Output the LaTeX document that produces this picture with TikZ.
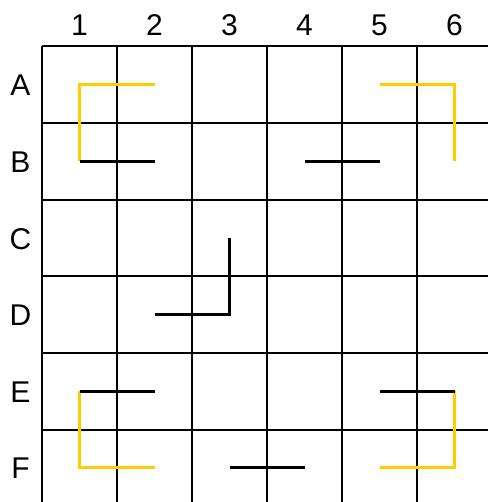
\documentclass[tikz,border=0pt]{standalone}
\usepackage{fontspec}
\setmainfont{Liberation Sans}
\usetikzlibrary{positioning}
\definecolor{PathGold}{RGB}{255,204,0}

\begin{document}
\begin{tikzpicture}[x=1pt, y=-1pt, lbl/.style={font=\fontsize{30}{30}\selectfont,inner sep=0pt}, gridline/.style={line width=2pt}, seg/.style={line width=3.3pt}, gold/.style={seg,draw=PathGold}]
\useasboundingbox (0,0) rectangle (488,502);
% grid
\foreach \k in {0,...,5} {
  \draw[gridline] ({42+75*\k},46.5) -- ({42+75*\k},502);
  \draw[gridline] (42,{46.5+76.6*\k}) -- (488,{46.5+76.6*\k});
}
% labels and cell centres
\foreach \c in {1,...,6}
  \node[lbl] (col\c) at ({79.5+75*(\c-1)},25) {\c};
\foreach \r [count=\j] in {A,...,F} {
  \node[lbl] (row\r) at (20.5,{85.5+76.6*(\j-1)}) {\r};
  \foreach \c in {1,...,6}
    \coordinate (\r\c) at ({79.5+75*(\c-1)},{84.8+76.6*(\j-1)});
}
% pieces
\draw[gold] (A2) -- (A1) -- (B1);
\draw[seg] (B1) -- (B2);
\draw[gold] (A5) -- (A6) -- (B6);
\draw[seg] (B4) -- (B5);
\draw[seg] (C3) -- (D3) -- (D2);
\draw[gold] (E1) -- (F1) -- (F2);
\draw[seg] (E1) -- (E2);
\draw[gold] (E6) -- (F6) -- (F5);
\draw[seg] (E5) -- (E6);
\draw[seg] (F3) -- (F4);
\end{tikzpicture}
\end{document}
